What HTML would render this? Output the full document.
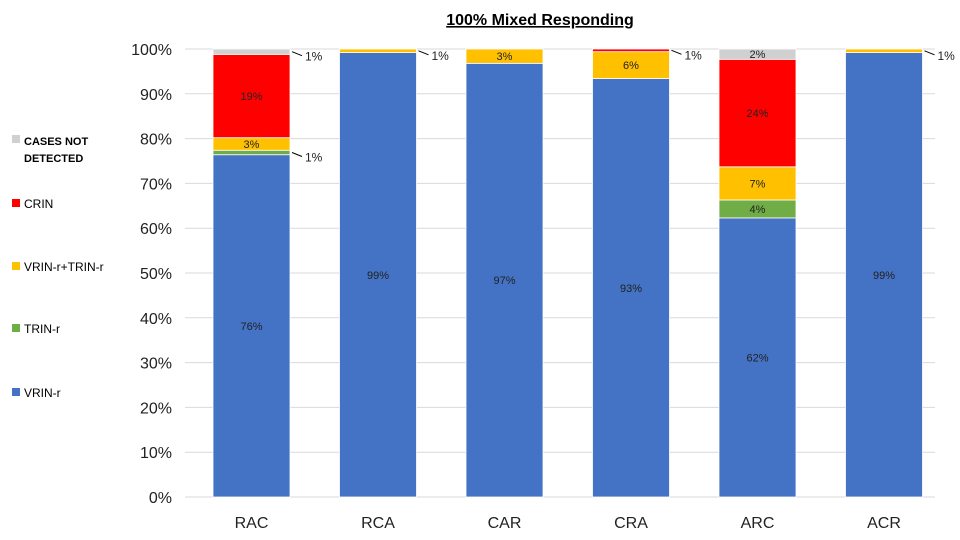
<!DOCTYPE html>
<html><head><meta charset="utf-8"><style>
body{margin:0;background:#fff;font-family:"Liberation Sans",sans-serif}
svg{display:block}
</style></head><body>
<svg id="chart" width="960" height="540">
<text x="540" y="25" text-anchor="middle" font-size="16" font-weight="bold" text-decoration="underline">100% Mixed Responding</text>
<g id="grid"></g><g id="bars"></g><g id="labels"></g>
<g font-size="12">
<rect x="12" y="135" width="8" height="8" fill="#d0d0d0"/>
<text x="24" y="145" font-weight="bold" font-size="11">CASES NOT</text>
<text x="24" y="162" font-weight="bold" font-size="11">DETECTED</text>
<rect x="12" y="199" width="8" height="8" fill="#ff0000"/>
<text x="24" y="208">CRIN</text>
<rect x="12" y="262" width="8" height="8" fill="#ffc000"/>
<text x="24" y="271">VRIN-r+TRIN-r</text>
<rect x="12" y="324" width="8" height="8" fill="#70ad47"/>
<text x="24" y="333">TRIN-r</text>
<rect x="12" y="388" width="8" height="8" fill="#4472c4"/>
<text x="24" y="397">VRIN-r</text>
</g>
</svg>
<script>
const categories=["RAC","RCA","CAR","CRA","ARC","ACR"];
const vrin=[76.4,99.2,96.8,93.4,62.3,99.2];
const trin=[1,0,0,0,4,0];
const vrinTrin=[2.8,0.8,3.2,6,7.4,0.8];
const crin=[18.6,0,0,0.6,24,0];
const notDetected=[1.2,0,0,0,2.3,0];
const yTicks=[0,10,20,30,40,50,60,70,80,90,100];
const series=[
 {name:"vrin",vals:vrin,color:"#4472c4"},
 {name:"trin",vals:trin,color:"#70ad47"},
 {name:"vrin-trin",vals:vrinTrin,color:"#ffc000"},
 {name:"crin",vals:crin,color:"#ff0000"},
 {name:"not-detected",vals:notDetected,color:"#d0d0d0"}];
const NS="http://www.w3.org/2000/svg";
const y0=497,y100=49,xL=185,xR=935,bw=77;
const y=v=>y0-(y0-y100)*v/100;
const xc=i=>251.5+i*126.5;
function mk(t,a,p){const e=document.createElementNS(NS,t);for(const k in a)e.setAttribute(k,a[k]);p.appendChild(e);return e;}
const grid=document.getElementById('grid'),bars=document.getElementById('bars'),labels=document.getElementById('labels');
yTicks.forEach(t=>{
 const l=mk('line',{x1:xL,x2:xR,y1:y(t),y2:y(t),stroke:'#d9d9d9','stroke-width':1},grid);
 
 
 const tx=mk('text',{x:172,y:y(t)+6,'text-anchor':'end','font-size':16,fill:'#222'},grid);
 tx.textContent=t+'%';
 
 
});
categories.forEach((c,i)=>{
 const tx=mk('text',{x:xc(i),y:528,'text-anchor':'middle','font-size':16,fill:'#222'},grid);
 tx.textContent=c;
 
 
 let acc=0;
 series.forEach(s=>{
  const v=s.vals[i];if(v<=0)return;
  const top=y(acc+v),bot=y(acc);
  const r=mk('rect',{x:xc(i)-bw/2,y:top,width:bw,height:bot-top,fill:s.color,stroke:'#fff','stroke-width':0.8},bars);
  
  
  const cy=(top+bot)/2,txt=Math.round(v)+'%';
  let lb;
  if(bot-top>9){
   lb=mk('text',{x:xc(i),y:cy+4,'text-anchor':'middle','font-size':11,fill:'#222'},labels);
  }else{
   const xr=xc(i)+bw/2;
   const ln=mk('line',{x1:xr+2,y1:cy,x2:xr+12,y2:cy+4,stroke:'#000','stroke-width':1},labels);
   
   
   lb=mk('text',{x:xr+15,y:cy+9,'font-size':12,fill:'#222'},labels);
  }
  lb.textContent=txt;
  
  
  acc+=v;
 });
});
</script>
</body></html>
